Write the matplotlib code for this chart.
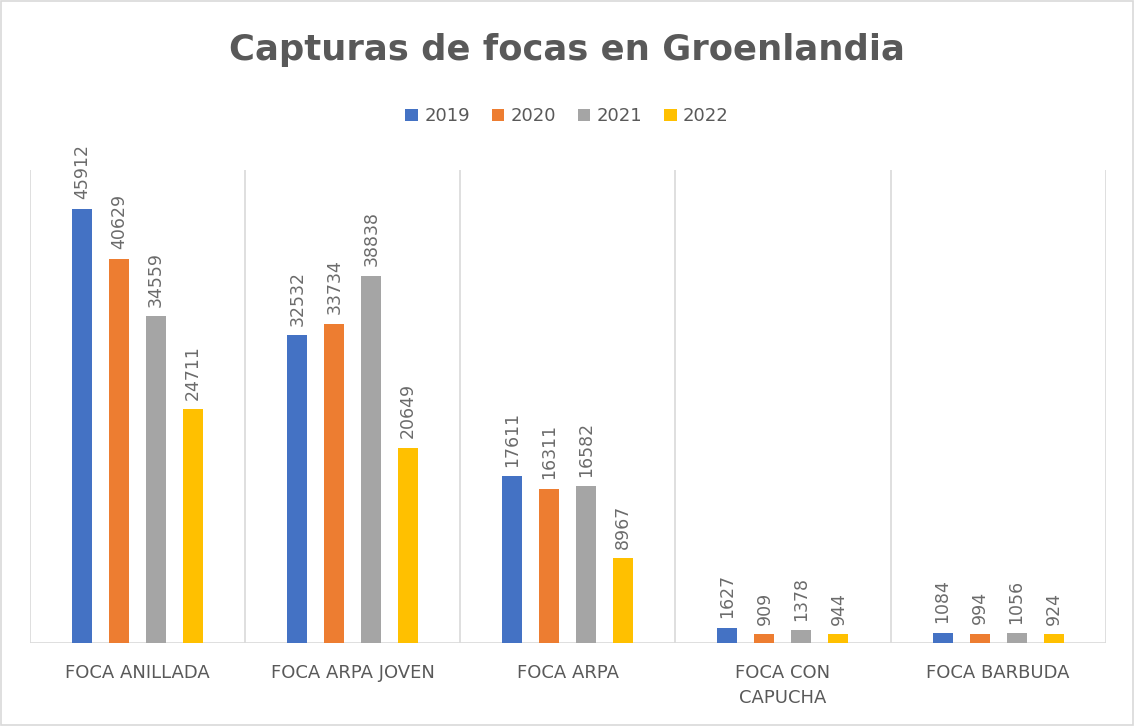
import numpy as np
import matplotlib
matplotlib.use("Agg")
import matplotlib.pyplot as plt
from matplotlib.patches import Rectangle

# ── Data ──────────────────────────────────────────────
categories = ["FOCA ANILLADA", "FOCA ARPA JOVEN", "FOCA ARPA",
              "FOCA CON\nCAPUCHA", "FOCA BARBUDA"]
years = ["2019", "2020", "2021", "2022"]
v2019 = [45912, 32532, 17611, 1627, 1084]
v2020 = [40629, 33734, 16311, 909, 994]
v2021 = [34559, 38838, 16582, 1378, 1056]
v2022 = [24711, 20649, 8967, 944, 924]

series = [v2019, v2020, v2021, v2022]
colors = ["#4472C4", "#ED7D31", "#A5A5A5", "#FFC000"]
text_gray = "#595959"

fig = plt.figure(figsize=(11.34, 7.26), dpi=100)
ax = fig.add_axes([0.0265, 0.1143, 0.9485, 0.6517])

x = np.arange(len(categories))
width = 0.093
step = 0.172
offsets = (np.arange(len(series)) - 1.5) * step

for vals, col, yr, off in zip(series, colors, years, offsets):
    bars = ax.bar(x + off, vals, width, color=col, label=yr, zorder=3)
    for b, v in zip(bars, vals):
        ax.text(b.get_x() + b.get_width() / 2, v + 1000, str(v),
                rotation=90, ha="center", va="bottom",
                fontsize=12.5, color="#6B6B6B", zorder=4)

ax.set_xlim(-0.5, len(categories) - 0.5)
ax.set_ylim(0, 50000)

# vertical separators between categories
for xv in np.arange(-0.5, len(categories), 1.0):
    ax.axvline(xv, color="#D9D9D9", linewidth=1.2, zorder=1)
ax.axhline(0, color="#D9D9D9", linewidth=1.2, zorder=2)

for s in ax.spines.values():
    s.set_visible(False)
ax.set_yticks([])
ax.set_xticks(x)
ax.set_xticklabels(categories, fontsize=13, color=text_gray,
                   linespacing=1.5)
ax.tick_params(axis="x", length=0, pad=15)

fig.suptitle("Capturas de focas en Groenlandia", x=0.5, y=0.931, va="center",
             fontsize=25.5, fontweight="bold", color=text_gray)

fig.legend(loc="center", bbox_to_anchor=(0.5, 0.84), ncol=4, frameon=False,
           fontsize=13, handlelength=0.7, handleheight=0.7,
           handletextpad=0.35, columnspacing=1.2, labelcolor=text_gray)

# outer chart border
fig.patches.append(Rectangle((0.001, 0.001), 0.998, 0.998,
                             transform=fig.transFigure, fill=False,
                             edgecolor="#D9D9D9", linewidth=1.2))

fig.savefig("out.png", dpi=100)
plt.close(fig)
